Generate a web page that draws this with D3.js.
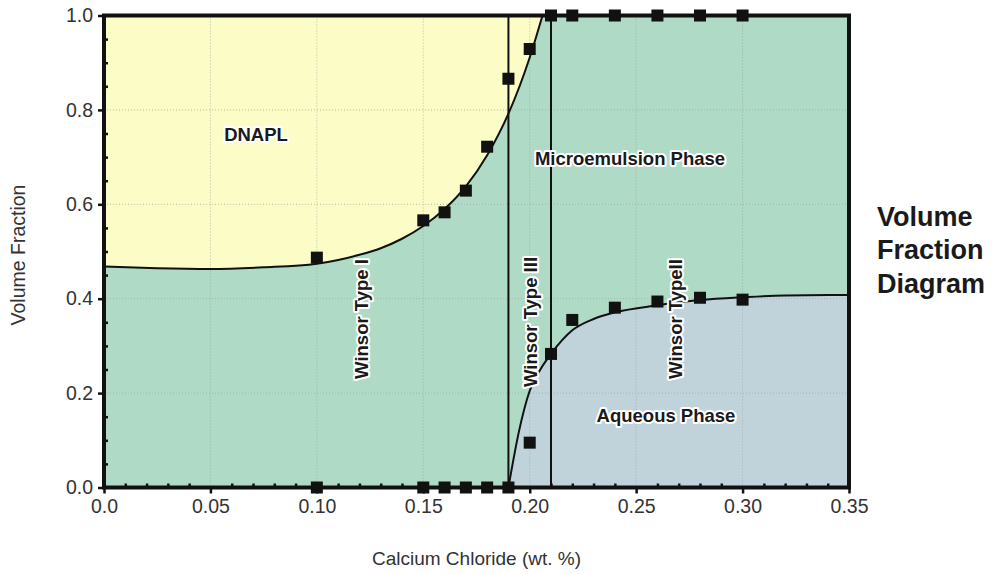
<!DOCTYPE html>
<html>
<head>
<meta charset="utf-8">
<script src="https://cdn.jsdelivr.net/npm/d3@7/dist/d3.min.js"></script>
<style>
  html, body { margin: 0; padding: 0; background: #ffffff; }
  svg { display: block; font-family: "Liberation Sans", Arial, sans-serif; }
  .phase-label { font-weight: bold; font-size: 18.5px; fill: #1a1a1a;
    stroke: #ffffff; stroke-width: 4px; stroke-linejoin: round; paint-order: stroke; }
</style>
</head>
<body>
<svg id="chart" width="1003" height="574"></svg>
<script>
// Measured salinity series (wt. % CaCl2)
const salinity = [0.10, 0.15, 0.16, 0.17, 0.18, 0.19, 0.20, 0.21, 0.22, 0.24, 0.26, 0.28, 0.30];
// Upper interface (DNAPL / microemulsion)
const upperInterface = [0.487, 0.566, 0.583, 0.629, 0.722, 0.866, 0.929, 1.0, 1.0, 1.0, 1.0, 1.0, 1.0];
// Lower interface (microemulsion / aqueous)
const lowerInterface = [0.0, 0.0, 0.0, 0.0, 0.0, 0.0, 0.095, 0.283, 0.355, 0.381, 0.394, 0.402, 0.398];

// Fitted boundary curves
const dnaplFitX = [0.0, 0.025, 0.05, 0.075, 0.10, 0.11, 0.12, 0.13, 0.14, 0.15, 0.16, 0.17, 0.18, 0.19, 0.20, 0.206];
const dnaplFitY = [0.468, 0.4645, 0.463, 0.4665, 0.474, 0.482, 0.493, 0.507, 0.527, 0.554, 0.590, 0.638, 0.704, 0.792, 0.911, 1.0];
const aqueousFitX = [0.19, 0.195, 0.20, 0.205, 0.21, 0.22, 0.23, 0.24, 0.26, 0.28, 0.30, 0.32, 0.35];
const aqueousFitY = [0.0, 0.12, 0.205, 0.25, 0.283, 0.333, 0.357, 0.371, 0.386, 0.397, 0.403, 0.407, 0.408];

// Winsor type boundaries
const winsorBounds = [0.19, 0.21];

// Axis ticks
const xTicks = [0.0, 0.05, 0.10, 0.15, 0.20, 0.25, 0.30, 0.35];
const xTickLabels = ["0.0", "0.05", "0.10", "0.15", "0.20", "0.25", "0.30", "0.35"];
const yTicks = [0.0, 0.2, 0.4, 0.6, 0.8, 1.0];
const yTickLabels = ["0.0", "0.2", "0.4", "0.6", "0.8", "1.0"];

const svg = d3.select("#chart");
const plotL = 104, plotR = 849, plotT = 15.5, plotB = 487.5;

const x = d3.scaleLinear().domain([0, 0.35]).range([plotL, plotR]);
const y = d3.scaleLinear().domain([0, 1]).range([plotB, plotT]);

const colGreen = "#afdac5", colYellow = "#fcfcc6", colBlue = "#c0d3db";

// Microemulsion background
svg.append("rect").attr("x", x(0)).attr("y", y(1))
  .attr("width", x(0.35) - x(0)).attr("height", y(0) - y(1)).attr("fill", colGreen);

const dnapl = dnaplFitX.map((v, i) => [v, dnaplFitY[i]]);
const aqueous = aqueousFitX.map((v, i) => [v, aqueousFitY[i]]);

// DNAPL region (above fitted curve)
svg.append("path").datum(dnapl)
  .attr("d", d3.area().x(d => x(d[0])).y0(y(1)).y1(d => y(d[1])).curve(d3.curveMonotoneX))
  .attr("fill", colYellow);

// Aqueous region (below fitted curve)
svg.append("path").datum(aqueous)
  .attr("d", d3.area().x(d => x(d[0])).y0(y(0)).y1(d => y(d[1])).curve(d3.curveMonotoneX))
  .attr("fill", colBlue);

// Dotted grid
const grid = svg.append("g").attr("stroke", "#9aa6a0").attr("stroke-width", 1)
  .attr("stroke-dasharray", "1,2").attr("opacity", 0.7);
grid.selectAll("line.vx").data(xTicks.slice(1, -1)).join("line")
  .attr("x1", d => x(d)).attr("x2", d => x(d)).attr("y1", y(0)).attr("y2", y(1));
grid.selectAll("line.hy").data(yTicks.slice(1, -1)).join("line")
  .attr("y1", d => y(d)).attr("y2", d => y(d)).attr("x1", x(0)).attr("x2", x(0.35));

// Fitted curves
const line = d3.line().x(d => x(d[0])).y(d => y(d[1])).curve(d3.curveMonotoneX);
svg.append("path").datum(dnapl).attr("d", line)
  .attr("fill", "none").attr("stroke", "#111").attr("stroke-width", 2);
svg.append("path").datum(aqueous).attr("d", line)
  .attr("fill", "none").attr("stroke", "#111").attr("stroke-width", 2);

// Winsor boundaries
svg.selectAll("line.wb").data(winsorBounds).join("line")
  .attr("x1", d => x(d)).attr("x2", d => x(d)).attr("y1", y(0)).attr("y2", y(1))
  .attr("stroke", "#111").attr("stroke-width", 2);

// Phase labels
const labels = svg.append("g").attr("class", "phase-label");
labels.append("text").attr("x", 256).attr("y", 141).attr("text-anchor", "middle").text("DNAPL");
labels.append("text").attr("x", 630).attr("y", 165).attr("text-anchor", "middle").text("Microemulsion Phase");
labels.append("text").attr("x", 666).attr("y", 422).attr("text-anchor", "middle").text("Aqueous Phase");
const vLabels = [["Winsor Type I", 368, 319], ["Winsor Type III", 536.5, 322], ["Winsor TypeII", 681.5, 319]];
vLabels.forEach(([t, cx, cy]) => {
  labels.append("text").attr("transform", `translate(${cx},${cy}) rotate(-90)`)
    .attr("text-anchor", "middle").text(t);
});

// Axes: major ticks outward with labels, minor ticks inward
const xAxis = d3.axisBottom(x).tickValues(xTicks).tickFormat((d, i) => xTickLabels[i])
  .tickSize(6).tickPadding(6);
svg.append("g").attr("transform", `translate(0,${plotB})`).call(xAxis);
const xMinor = d3.range(1, 35).map(i => i / 100).filter(v => Math.abs(v * 20 - Math.round(v * 20)) > 1e-6);
svg.append("g").attr("transform", `translate(0,${plotB})`)
  .call(d3.axisBottom(x).tickValues(xMinor).tickSize(-4).tickFormat(""));

const yAxis = d3.axisLeft(y).tickValues(yTicks).tickFormat((d, i) => yTickLabels[i])
  .tickSize(6).tickPadding(5);
svg.append("g").attr("transform", `translate(${plotL},0)`).call(yAxis);
const yMinor = d3.range(1, 20).map(i => i / 20).filter(v => Math.abs(v * 5 - Math.round(v * 5)) > 1e-6);
svg.append("g").attr("transform", `translate(${plotL},0)`)
  .call(d3.axisLeft(y).tickValues(yMinor).tickSize(-4).tickFormat(""));

svg.selectAll(".domain").remove();
svg.selectAll(".tick line").attr("stroke", "#111").attr("stroke-width", 2.5);
svg.selectAll(".tick text").attr("font-size", "19.5px").attr("fill", "#333")
  .attr("font-family", "Liberation Sans, Arial, sans-serif");

// Frame
svg.append("rect").attr("x", plotL).attr("y", plotT)
  .attr("width", plotR - plotL).attr("height", plotB - plotT)
  .attr("fill", "none").attr("stroke", "#111").attr("stroke-width", 4);

// Measured points
const pts = svg.append("g").attr("fill", "#111");
const sq = 12;
pts.selectAll("rect.u").data(salinity).join("rect")
  .attr("x", d => x(d) - sq / 2).attr("y", (d, i) => y(upperInterface[i]) - sq / 2)
  .attr("width", sq).attr("height", sq);
pts.selectAll("rect.l").data(salinity).join("rect")
  .attr("x", d => x(d) - sq / 2).attr("y", (d, i) => y(lowerInterface[i]) - sq / 2)
  .attr("width", sq).attr("height", sq);

// Axis titles
svg.append("text").attr("x", 476.5).attr("y", 565).attr("text-anchor", "middle")
  .attr("font-size", "19px").attr("fill", "#333").text("Calcium Chloride (wt. %)");
svg.append("text").attr("transform", "translate(25,255) rotate(-90)").attr("text-anchor", "middle")
  .attr("font-size", "19.5px").attr("fill", "#333").text("Volume Fraction");

// Side title
const side = svg.append("text").attr("x", 877).attr("font-size", "27px")
  .attr("font-weight", "bold").attr("fill", "#1a1a1a");
["Volume", "Fraction", "Diagram"].forEach((t, i) => {
  side.append("tspan").attr("x", 877).attr("y", 226 + i * 33.3).text(t);
});
</script>
</body>
</html>
